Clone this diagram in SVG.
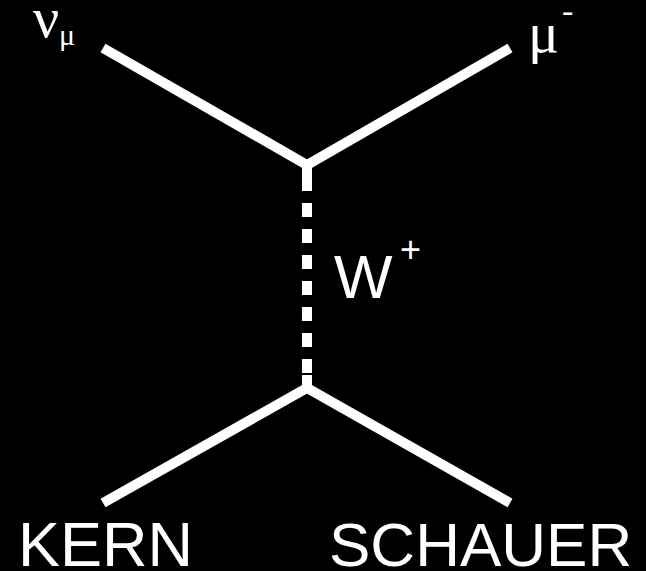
<svg xmlns="http://www.w3.org/2000/svg" width="646" height="571" viewBox="0 0 646 571">
<style>
.ln{stroke:#fff;stroke-width:10;fill:none;stroke-linejoin:miter}
.sans{font-family:"Liberation Sans",Arial,sans-serif;fill:#fff}
.serif{font-family:"Liberation Serif","Times New Roman",serif;fill:#fff}
</style>
<rect width="646" height="571" fill="#000"/>
<g id="connectors">
<polyline class="ln" points="103,48 307,165 510,48"/>
<line class="ln" x1="307" y1="160" x2="307" y2="190"/>
<line class="ln" x1="307" y1="190" x2="307" y2="388" stroke-dasharray="14 12" stroke-dashoffset="-13"/>
<polyline class="ln" points="103,503 307,388 510,503"/>
<line class="ln" x1="307" y1="375" x2="307" y2="392"/>
</g>
<g id="nu_mu"><text class="serif" x="33" y="37" font-size="58">ν</text><text class="serif" x="59" y="45" font-size="30">μ</text></g>
<g id="mu_minus"><text class="serif" x="528" y="52" font-size="58">μ</text><text class="serif" x="562" y="22" font-size="34">-</text></g>
<g id="w_plus"><text class="sans" x="334" y="298" font-size="62">W</text><text class="sans" x="400" y="262" font-size="36">+</text></g>
<g id="kern"><text class="sans" x="18" y="566" font-size="63">KERN</text></g>
<g id="schauer"><text class="sans" x="329" y="566" font-size="62">SCHAUER</text></g>
</svg>
